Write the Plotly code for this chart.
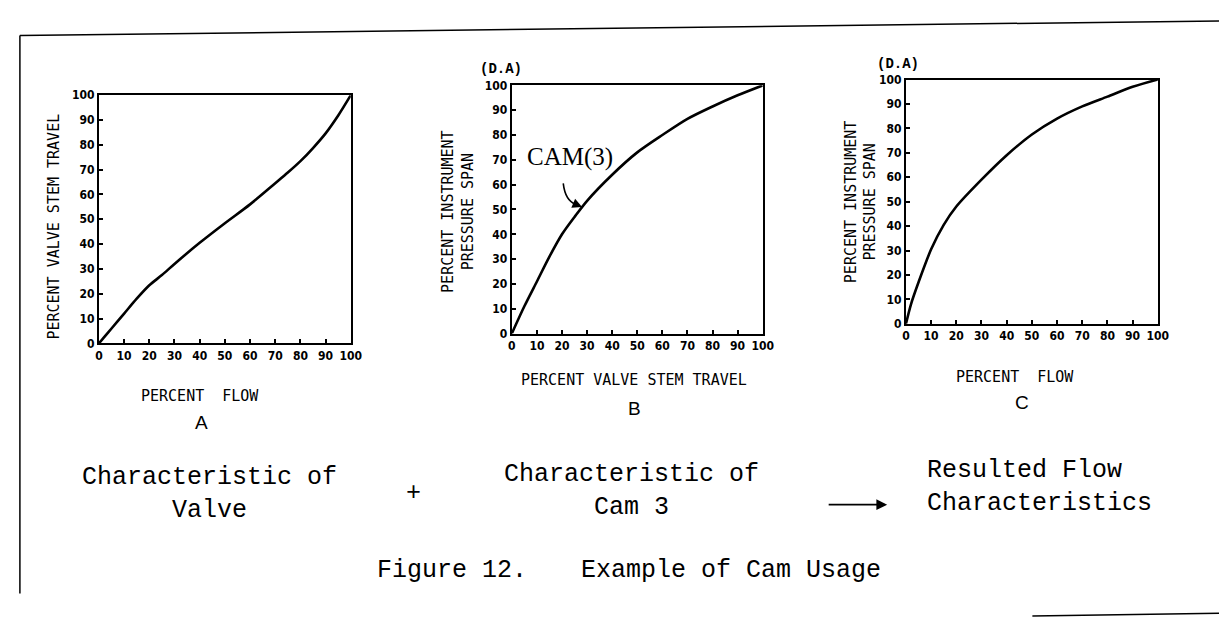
import plotly.graph_objects as go

W, H = 1227, 617

tick_vals = [0, 10, 20, 30, 40, 50, 60, 70, 80, 90, 100]
tick_text = ["0", "10", "20", "30", "40", "50", "60", "70", "80", "90", "100"]

# Panel A: Characteristic of valve (percent flow -> percent valve stem travel)
a_flow = [0, 2, 5, 10, 15, 20, 25, 30, 40, 50, 60, 70, 75, 80, 85, 90, 95, 100]
a_travel = [0, 2.4, 6, 12, 18, 23.4, 27.5, 32, 40.5, 48.4, 56, 64.5, 68.8, 73.4, 78.7, 84.6, 91.8, 100]

# Panel B: Characteristic of cam 3 (valve stem travel -> instrument pressure span)
b_travel = [0, 5, 10, 15, 20, 25, 30, 40, 50, 60, 70, 80, 90, 100]
b_pressure = [0, 11, 21, 31, 40, 47, 53.5, 64, 73, 80, 86.5, 91.5, 96, 100]

# Panel C: Resulted flow characteristics (flow -> instrument pressure span)
c_flow = [0, 2, 5, 10, 15, 20, 30, 40, 50, 60, 70, 80, 90, 100]
c_pressure = [0, 8, 17, 30.5, 40.5, 48, 59, 69, 77.5, 84, 89, 93, 97, 100]

# plot boxes in pixels: (left, right, top, bottom)
boxes = {
    "A": (88, 343, 82, 336),
    "B": (506, 760, 72, 326),
    "C": (905, 1160, 66, 316),
}


def px(x):
    return x / W


def py(y):
    return 1 - y / H


tick_font = dict(family="DejaVu Sans Condensed, DejaVu Sans", size=12, color="black", weight="bold")
title_font = dict(family="DejaVu Sans Mono", size=15, color="black")
mono = dict(family="Liberation Mono, Courier New, monospace", size=25, color="black")

fig = go.Figure()
series = [("A", a_flow, a_travel), ("B", b_travel, b_pressure), ("C", c_flow, c_pressure)]
for i, (key, xs, ys) in enumerate(series, start=1):
    suffix = "" if i == 1 else str(i)
    fig.add_trace(go.Scatter(x=xs, y=ys, mode="lines", xaxis="x" + suffix, yaxis="y" + suffix,
                             line=dict(color="black", width=2.6, shape="spline", smoothing=0.8),
                             showlegend=False, hoverinfo="skip"))

layout = dict(width=W, height=H, margin=dict(l=0, r=0, t=0, b=0),
              paper_bgcolor="white", plot_bgcolor="white", showlegend=False)
for i, key in enumerate(["A", "B", "C"], start=1):
    l, r, t, b = boxes[key]
    suffix = "" if i == 1 else str(i)
    common = dict(range=[0, 100], tickvals=tick_vals, ticktext=tick_text, ticks="inside", ticklen=4,
                  tickwidth=1.5, tickcolor="black", showline=True, linecolor="black", linewidth=2.2,
                  mirror=True, showgrid=False, zeroline=False, tickfont=tick_font, fixedrange=True)
    layout["xaxis" + suffix] = dict(domain=[px(l), px(r)], anchor="y" + suffix, **common)
    layout["yaxis" + suffix] = dict(domain=[py(b), py(t)], anchor="x" + suffix, **common)
fig.update_layout(**layout)

ann = []


def text(x, y, s, font, **kw):
    d = dict(x=px(x), y=py(y), xref="paper", yref="paper", text=s, showarrow=False, font=font,
             xanchor="center", yanchor="middle")
    d.update(kw)
    ann.append(d)


# axis titles
text(190, 390, "PERCENT\u00a0\u00a0FLOW", title_font)
text(630, 373, "PERCENT VALVE STEM TRAVEL", title_font)
text(1015, 370, "PERCENT\u00a0\u00a0FLOW", title_font)
text(43, 216, "PERCENT VALVE STEM TRAVEL", title_font, textangle=-90)
text(452, 201, "PERCENT INSTRUMENT<br>PRESSURE SPAN", title_font, textangle=-90)
text(859, 191, "PERCENT INSTRUMENT<br>PRESSURE SPAN", title_font, textangle=-90)

# panel letters
letter_font = dict(family="Liberation Sans, Arial", size=19, color="black")
text(192, 417, "A", letter_font)
text(630, 403, "B", letter_font)
text(1023, 397, "C", letter_font)

# (D.A) unit marks
da_font = dict(family="Liberation Mono", size=14, color="black", weight="bold")
text(495, 55, "(D.A)", da_font)
text(897, 50, "(D.A)", da_font)

# CAM(3) label and curved arrow
text(565, 145, "CAM(3)", dict(family="Liberation Serif", size=25, color="black"))
ann.append(dict(x=28, y=51, xref="x2", yref="y2", ax=25, ay=52.3, axref="x2", ayref="y2",
                text="", showarrow=True, arrowhead=2, arrowsize=1.2, arrowwidth=1.6,
                arrowcolor="black", standoff=0))

# bottom captions
text(200, 490, "Characteristic of<br>Valve", mono)
text(406, 490, "+", mono)
text(627, 487, "Characteristic of<br>Cam 3", mono)
text(924, 483, "Resulted Flow<br>Characteristics", mono, xanchor="left", align="left")
ann.append(dict(x=px(886), y=py(501), xref="paper", yref="paper", ax=-60, ay=0, text="",
                showarrow=True, arrowhead=2, arrowsize=1.2, arrowwidth=1.8, arrowcolor="black"))
text(367, 568, "Figure 12.", mono, xanchor="left")
text(574, 568, "Example of Cam Usage", mono, xanchor="left")

fig.update_layout(annotations=ann)

# page frame lines (scanned border) and the curved leader of the CAM(3) label
border = dict(color="black", width=1.5)
fig.update_layout(shapes=[
    dict(type="line", xref="paper", yref="paper", x0=px(8), y0=py(21), x1=1, y1=py(6), line=border),
    dict(type="line", xref="paper", yref="paper", x0=px(8), y0=py(21), x1=px(8), y1=py(592), line=border),
    dict(type="line", xref="paper", yref="paper", x0=px(1033), y0=py(615), x1=1, y1=py(612), line=border),
    dict(type="path", xref="x2", yref="y2", path="M 20.5,60.5 Q 21.3,53.5 25.5,52.1",
         line=dict(color="black", width=1.6)),
])

fig.write_html("out.html")
